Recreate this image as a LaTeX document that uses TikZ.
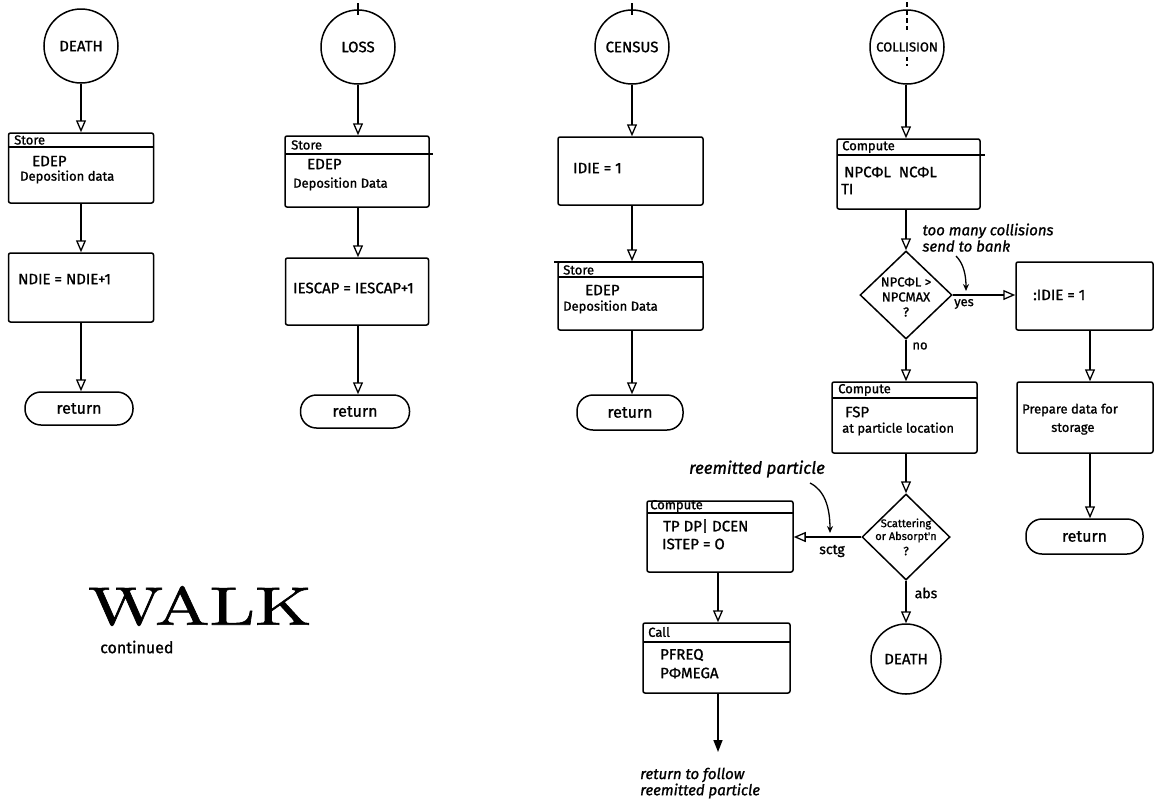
\documentclass[tikz,border=0pt]{standalone}
\usepackage{fontspec}
\newfontfamily\hand[FakeBold=1.2]{Fira Sans}
\newfontfamily\walkfont[FakeBold=1]{lmroman10-regular.otf}
\usetikzlibrary{arrows.meta,shapes.geometric,calc}
\tikzset{
 box/.style={draw, line width=1.5pt, rounded corners=2pt, inner sep=0pt},
 term/.style={draw, line width=1.5pt, rounded corners=16pt, inner sep=0pt, font=\hand\fontsize{16}{18}\selectfont},
 circ/.style={draw, circle, line width=1.5pt, inner sep=0pt, minimum size=74pt, font=\hand\fontsize{15}{17}\selectfont},
 dec/.style={draw, diamond, line width=1.5pt, inner sep=0pt},
 txt/.style={anchor=west, inner sep=0pt, font=\hand\fontsize{13}{15}\selectfont},
 capt/.style={anchor=west, inner sep=0pt, font=\hand\fontsize{15}{17}\selectfont},
 ctxt/.style={inner sep=0pt, font=\hand\fontsize{13}{15}\selectfont},
 stxt/.style={inner sep=0pt, font=\hand\fontsize{11}{13}\selectfont},
 note/.style={inner sep=0pt, font=\hand\itshape\fontsize{15}{17}\selectfont},
 flow/.style={line width=1.5pt, -{Triangle[open, length=12pt, width=10pt, line width=1.3pt]}},
 flowfill/.style={line width=1.5pt, -{Triangle[length=12pt, width=9pt]}},
 hline/.style={line width=1.3pt},
 bent/.style={line width=1.3pt, -{Stealth[length=7pt, width=6pt]}},
}
\begin{document}
\begin{tikzpicture}[x=1pt,y=-1pt]
\useasboundingbox (0,0) rectangle (1156,801);

% ---------------- DEATH column
\node[circ] (death1) at (81,46) {DEATH};
\node[box, minimum width=145pt, minimum height=70pt] (d1) at (81,168) {};
\draw[hline] (8.5,147) -- (153.5,147);
\node[txt] (d1a) at (14,140) {Store};
\node[capt] (d1b) at (32,161) {EDEP};
\node[txt] (d1c) at (20,177) {Deposition data};
\node[box, minimum width=145pt, minimum height=69pt] (d2) at (81,287.5) {};
\node[capt] (d2a) at (18,279) {NDIE = NDIE+1};
\node[term, minimum width=108pt, minimum height=33pt] (d3) at (79,408.5) {return};
\draw[flow] (death1.south) -- (d1.north);
\draw[flow] (d1.south) -- (d2.north);
\draw[flow] (d2.south) -- (d2.south |- d3.north);

% ---------------- LOSS column
\draw[hline] (358,3) -- (358,15);
\node[circ] (loss) at (358,47) {LOSS};
\node[box, minimum width=144pt, minimum height=71pt] (l1) at (357,171.5) {};
\draw[hline] (285,154) -- (433,154);
\node[txt] (l1a) at (291,145) {Store};
\node[capt] (l1b) at (307,164) {EDEP};
\node[txt] (l1c) at (293,184) {Deposition Data};
\node[box, minimum width=143pt, minimum height=67pt] (l2) at (357,291.5) {};
\node[capt] (l2a) at (293,288) {IESCAP = IESCAP+1};
\node[term, minimum width=109pt, minimum height=33pt] (l3) at (355,411.5) {return};
\draw[flow] (loss.south) -- (loss.south |- l1.north);
\draw[flow] (loss.south |- l1.south) -- (loss.south |- l2.north);
\draw[flow] (loss.south |- l2.south) -- (loss.south |- l3.north);

% ---------------- CENSUS column
\draw[hline] (632,3) -- (632,15);
\node[circ] (census) at (632,47) {CENSUS};
\node[box, minimum width=145pt, minimum height=68pt] (c1) at (630.5,171) {};
\node[capt] (c1a) at (573,168) {IDIE = 1};
\node[box, minimum width=145pt, minimum height=68pt] (c2) at (630.5,296) {};
\draw[hline] (554,262) -- (703,262);
\draw[hline] (558,277) -- (703,277);
\node[txt] (c2a) at (563,270) {Store};
\node[capt] (c2b) at (585,290) {EDEP};
\node[txt] (c2c) at (563,307) {Deposition Data};
\node[term, minimum width=106pt, minimum height=35pt] (c3) at (630,412.5) {return};
\draw[flow] (census.south) -- (census.south |- c1.north);
\draw[flow] (census.south |- c1.south) -- (census.south |- c2.north);
\draw[flow] (census.south |- c2.south) -- (census.south |- c3.north);

% ---------------- COLLISION column
\draw[hline, dash pattern=on 5pt off 3pt] (907,2) -- (907,30);
\draw[hline, dash pattern=on 4pt off 3pt] (907,57) -- (907,66);
\node[circ, font=\hand\fontsize{13}{15}\selectfont] (coll) at (907,47) {COLLISION};
\node[box, minimum width=143pt, minimum height=70pt] (k1) at (908.5,174) {};
\draw[hline] (837,155) -- (985,155);
\node[txt] (k1a) at (842,147) {Compute};
\node[capt] (k1b) at (844,172) {NPCΦL\ \ NCΦL};
\node[capt] (k1c) at (841,189) {TI};

\node[dec, minimum width=92pt, minimum height=88pt] (q1) at (906,295) {};
\node[ctxt] (q1a) at (906,282) {NPCΦL >};
\node[ctxt] (q1b) at (906,297) {NPCMAX};
\node[ctxt] (q1c) at (906,312) {?};
\node[ctxt] (yes) at (964,304) {yes};
\node[ctxt] (no) at (920,346) {no};

\node[note] (tm1) at (988,231) {too many collisions};
\node[note, anchor=west] (tm2) at (tm1.west |- 0,246) {send to bank};

\node[box, minimum width=137pt, minimum height=68pt] (r1) at (1084.5,296) {};
\node[capt] (r1a) at (1033,295) {:IDIE = 1};
\node[box, minimum width=136pt, minimum height=71pt] (r2) at (1085,417.5) {};
\node[txt] (r2a) at (1022,410) {Prepare data for};
\node[txt] (r2b) at (1051,429) {storage};
\node[term, minimum width=117pt, minimum height=35pt] (r3) at (1084.5,536.5) {return};
\coordinate (rx) at (1090,0);

\node[box, minimum width=145pt, minimum height=71pt] (k2) at (904.5,417.5) {};
\draw[hline] (832,398) -- (977,398);
\node[txt] (k2a) at (838,390) {Compute};
\node[capt] (k2b) at (845,412) {FSP};
\node[txt] (k2c) at (842,429) {at particle location};

\node[dec, minimum width=88pt, minimum height=86pt] (q2) at (906,537) {};
\node[stxt] (q2a) at (906,524) {Scattering};
\node[stxt] (q2b) at (906,537) {or Absorpt'n};
\node[stxt, font=\hand\fontsize{12}{14}\selectfont] (q2c) at (906,551) {?};
\node[ctxt, font=\hand\fontsize{14}{16}\selectfont] (abs) at (926,593) {abs};
\node[circ, minimum size=70pt] (death2) at (906,659) {DEATH};

\node[box, minimum width=146pt, minimum height=71pt] (k3) at (720,536.5) {};
\draw[hline] (647,513) -- (793,513);
\node[txt] (k3a) at (650,506) {Compute};
\node[capt] (k3b) at (663,526) {TP\ DP|\ DCEN};
\node[capt] (k3c) at (662,544) {ISTEP = O};
\node[ctxt, font=\hand\fontsize{14}{16}\selectfont] (sctg) at (832,551) {sctg};
\node[note, font=\hand\itshape\fontsize{17}{19}\selectfont] (rp) at (757,469) {reemitted particle};

\node[box, minimum width=147pt, minimum height=70pt] (k4) at (716.5,658) {};
\draw[hline] (643,642) -- (790,642);
\node[txt] (k4a) at (648,632) {Call};
\node[capt] (k4b) at (660,655) {PFREQ};
\node[capt] (k4c) at (660,673) {PΦMEGA};
\coordinate (kend) at (718,752);
\node[note, anchor=west] (rt1) at (640,775) {return to follow};
\node[note, anchor=west] (rt2) at (640,791) {reemitted particle};

% connectors
\draw[flow] (coll.south -| q1.north) -- (q1.north |- k1.north);
\draw[flow] (q1.north |- k1.south) -- (q1.north);
\draw[flow] (q1.east) -- (q1.east -| r1.west);
\draw[flow] (q1.south) -- (q1.south |- k2.north);
\draw[flow] (q2.north |- k2.south) -- (q2.north);
\draw[flow] (q2.south) -- (death2.north);
\draw[flow] (q2.west) -- (q2.west -| k3.east);
\draw[flow] (k3.south -| kend) -- (k4.north -| kend);
\draw[flowfill] (k4.south -| kend) -- (kend);
\draw[flow] (r1.south -| rx) -- (r2.north -| rx);
\draw[flow] (r2.south -| rx) -- (r3.north -| rx);

% annotation arrows
\coordinate (tmA) at (956,256);
\coordinate (tmB) at (966,291);
\draw[bent] (tmA) .. controls (964,264) and (966,276) .. (tmB);
\coordinate (rpA) at (810,483);
\coordinate (rpB) at (830,533);
\draw[bent] (rpA) .. controls (824,490) and (830,506) .. (rpB);

% title
\node[inner sep=0pt, font=\walkfont\fontsize{54}{60}\selectfont] (walk) at (200,606) {\scalebox{1.35}[1]{WALK}};
\node[txt, font=\hand\fontsize{16}{18}\selectfont] (cont) at (100,647) {continued};
\end{tikzpicture}
\end{document}
